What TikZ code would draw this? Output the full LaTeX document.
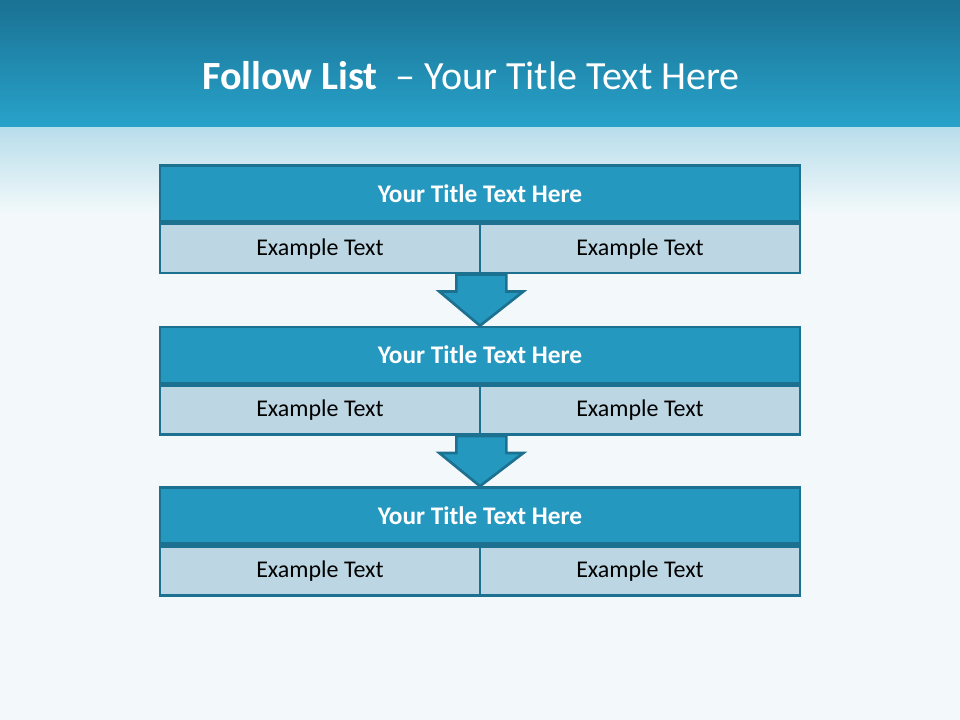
\documentclass[tikz,border=0pt]{standalone}
\usepackage{fontspec}
\setmainfont{Carlito}
\usetikzlibrary{positioning, calc}

\definecolor{bandblue}{HTML}{2598C0}
\definecolor{cellblue}{HTML}{BCD7E3}
\definecolor{edgeblue}{HTML}{1D7190}
\definecolor{headtop}{HTML}{1A7193}
\definecolor{headbot}{HTML}{28A3CB}
\definecolor{fadetop}{HTML}{B9DEEB}
\definecolor{pagebg}{HTML}{F3F9FB}

\tikzset{
  titleband/.style={draw=edgeblue, line width=2pt, fill=bandblue, text=white,
    minimum width=480pt, minimum height=42pt, inner sep=0pt,
    font=\fontsize{19}{23}\selectfont\bfseries},
  cellbox/.style={draw=edgeblue, line width=2pt, fill=cellblue, text=black,
    minimum width=240pt, minimum height=36.75pt, inner sep=0pt,
    font=\fontsize{18}{22}\selectfont},
  downarrow/.style={draw=edgeblue, line width=2pt, fill=bandblue, line join=miter}
}

\begin{document}
\begin{tikzpicture}[x=0.75pt, y=-0.75pt]

  % Fundo e faixa de titulo
  \useasboundingbox (0,0) rectangle (960,720);
  \fill[pagebg] (0,0) rectangle (960,720);
  \shade[top color=headtop, bottom color=headbot] (0,0) rectangle (960,128);
  \shade[top color=fadetop, bottom color=pagebg] (0,128) rectangle (960,215);

  % Titulo do slide
  \node[text=white, font=\fontsize{30}{34}\selectfont] (title) at (471,76)
    {\textbf{Follow List}\ \ -- Your Title Text Here};

  % Bloco 1
  \node[titleband] (t1) at (480,193.5) {Your Title Text Here};
  \node[cellbox, anchor=north west] (a1) at (t1.south west) {Example Text};
  \node[cellbox, anchor=north east] (b1) at (t1.south east) {Example Text};

  % Bloco 2
  \node[titleband] (t2) at (480,355) {Your Title Text Here};
  \node[cellbox, anchor=north west] (a2) at (t2.south west) {Example Text};
  \node[cellbox, anchor=north east] (b2) at (t2.south east) {Example Text};

  % Bloco 3
  \node[titleband] (t3) at (480,515.5) {Your Title Text Here};
  \node[cellbox, anchor=north west] (a3) at (t3.south west) {Example Text};
  \node[cellbox, anchor=north east] (b3) at (t3.south east) {Example Text};

  % Setas entre os blocos
  \draw[downarrow] ($(a1.south east)+(-25,0)$) -- ++(0,17) -- ++(-17,0)
    -- (t2.north) -- ($(a1.south east)+(42,17)$) -- ++(-17,0) -- ++(0,-17) -- cycle;
  \draw[downarrow] ($(a2.south east)+(-25,0)$) -- ++(0,17) -- ++(-17,0)
    -- (t3.north) -- ($(a2.south east)+(42,17)$) -- ++(-17,0) -- ++(0,-17) -- cycle;

\end{tikzpicture}
\end{document}
